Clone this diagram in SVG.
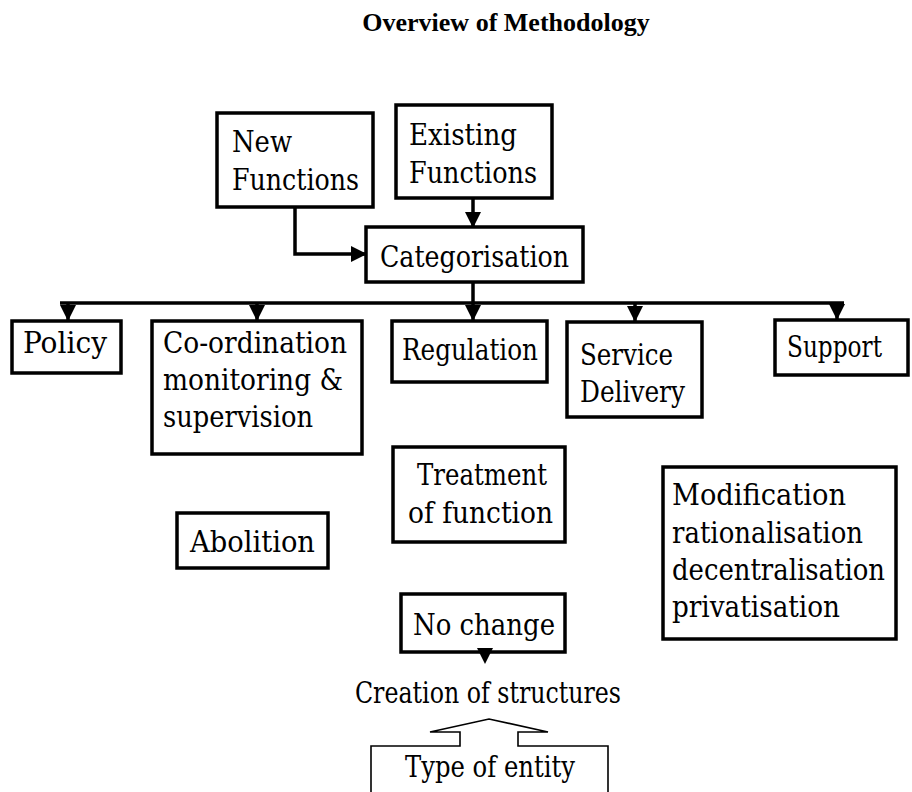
<svg xmlns="http://www.w3.org/2000/svg" width="912" height="792" viewBox="0 0 912 792">
  <style>
    .box { fill: #ffffff; stroke: #000000; stroke-width: 3.5; }
    .lbl { font-family: "DejaVu Serif Condensed", "DejaVu Serif", serif; font-stretch: condensed; font-size: 29px; fill: #000000; }
    .title { font-family: "Liberation Serif", "Times New Roman", serif; font-size: 26px; font-weight: bold; fill: #000000; }
    .wire { fill: none; stroke: #000000; stroke-width: 3.5; }
    .thin { fill: #ffffff; stroke: #000000; stroke-width: 1.6; }
  </style>
  <defs>
    <marker id="head" markerUnits="userSpaceOnUse" markerWidth="16" markerHeight="16" viewBox="0 0 16 16" refX="15" refY="8" orient="auto">
      <path d="M0,0 L16,8 L0,16 Z" fill="#000000"/>
    </marker>
  </defs>

  <rect width="912" height="792" fill="#ffffff"/>

  <text class="title" x="506" y="31" text-anchor="middle">Overview of Methodology</text>

  <g id="new-functions">
    <rect class="box" x="217" y="113" width="156" height="94"/>
    <text class="lbl" x="232" y="152" textLength="60" lengthAdjust="spacingAndGlyphs">New</text>
    <text class="lbl" x="232" y="190" textLength="127" lengthAdjust="spacingAndGlyphs">Functions</text>
  </g>

  <g id="existing-functions">
    <rect class="box" x="396" y="105" width="156" height="93"/>
    <text class="lbl" x="409" y="145" textLength="108" lengthAdjust="spacingAndGlyphs">Existing</text>
    <text class="lbl" x="409" y="183" textLength="128" lengthAdjust="spacingAndGlyphs">Functions</text>
  </g>

  <g id="categorisation">
    <rect class="box" x="366" y="227" width="217" height="55"/>
    <text class="lbl" x="380" y="267" textLength="189" lengthAdjust="spacingAndGlyphs">Categorisation</text>
  </g>

  <g id="policy">
    <rect class="box" x="12" y="321" width="109" height="52"/>
    <text class="lbl" x="23" y="353" textLength="84" lengthAdjust="spacingAndGlyphs">Policy</text>
  </g>

  <g id="coordination">
    <rect class="box" x="152" y="321" width="210" height="133"/>
    <text class="lbl" x="163" y="353" textLength="184" lengthAdjust="spacingAndGlyphs">Co-ordination</text>
    <text class="lbl" x="163" y="390" textLength="180" lengthAdjust="spacingAndGlyphs">monitoring &amp;</text>
    <text class="lbl" x="163" y="427" textLength="150" lengthAdjust="spacingAndGlyphs">supervision</text>
  </g>

  <g id="regulation">
    <rect class="box" x="392" y="321" width="155" height="61"/>
    <text class="lbl" x="402" y="360" textLength="136" lengthAdjust="spacingAndGlyphs">Regulation</text>
  </g>

  <g id="service-delivery">
    <rect class="box" x="567" y="322" width="135" height="95"/>
    <text class="lbl" x="580" y="365" textLength="93" lengthAdjust="spacingAndGlyphs">Service</text>
    <text class="lbl" x="580" y="402" textLength="105" lengthAdjust="spacingAndGlyphs">Delivery</text>
  </g>

  <g id="support">
    <rect class="box" x="775" y="320" width="133" height="55"/>
    <text class="lbl" x="787" y="357" textLength="95" lengthAdjust="spacingAndGlyphs">Support</text>
  </g>

  <g id="treatment">
    <rect class="box" x="393" y="447" width="172" height="95"/>
    <text class="lbl" x="417" y="485" textLength="130" lengthAdjust="spacingAndGlyphs">Treatment</text>
    <text class="lbl" x="408" y="523" textLength="145" lengthAdjust="spacingAndGlyphs">of function</text>
  </g>

  <g id="abolition">
    <rect class="box" x="177" y="513" width="151" height="55"/>
    <text class="lbl" x="190" y="552" textLength="125" lengthAdjust="spacingAndGlyphs">Abolition</text>
  </g>

  <g id="modification">
    <rect class="box" x="663" y="467" width="233" height="172"/>
    <text class="lbl" x="672" y="505" textLength="174" lengthAdjust="spacingAndGlyphs">Modification</text>
    <text class="lbl" x="672" y="543" textLength="191" lengthAdjust="spacingAndGlyphs">rationalisation</text>
    <text class="lbl" x="672" y="580" textLength="213" lengthAdjust="spacingAndGlyphs">decentralisation</text>
    <text class="lbl" x="672" y="617" textLength="168" lengthAdjust="spacingAndGlyphs">privatisation</text>
  </g>

  <g id="no-change">
    <rect class="box" x="401" y="594" width="164" height="58"/>
    <text class="lbl" x="413" y="635" textLength="142" lengthAdjust="spacingAndGlyphs">No change</text>
  </g>

  <g id="creation">
    <text class="lbl" x="355" y="703" textLength="266" lengthAdjust="spacingAndGlyphs">Creation of structures</text>
  </g>

  <g id="type-of-entity">
    <path class="thin" d="M371,794 V746 H460 V732 H430 L489,719 L548,732 H518 V746 H608 V794"/>
    <text class="lbl" x="405" y="777" textLength="170" lengthAdjust="spacingAndGlyphs">Type of entity</text>
  </g>

  <!-- connectors, drawn over the box borders -->
  <g id="connectors">
    <path class="wire" d="M295,207 V254 H366" marker-end="url(#head)"/>
    <path class="wire" d="M473,198 V227" marker-end="url(#head)"/>
    <path class="wire" d="M473,282 V303"/>
    <path class="wire" d="M60,303 H844"/>
    <path class="wire" d="M68,303 V320" marker-end="url(#head)"/>
    <path class="wire" d="M257,303 V320" marker-end="url(#head)"/>
    <path class="wire" d="M473,303 V320" marker-end="url(#head)"/>
    <path class="wire" d="M635,303 V321" marker-end="url(#head)"/>
    <path class="wire" d="M837,303 V319" marker-end="url(#head)"/>
    <path d="M477,648 H493 L485,664 Z" fill="#000000"/>
  </g>
</svg>
